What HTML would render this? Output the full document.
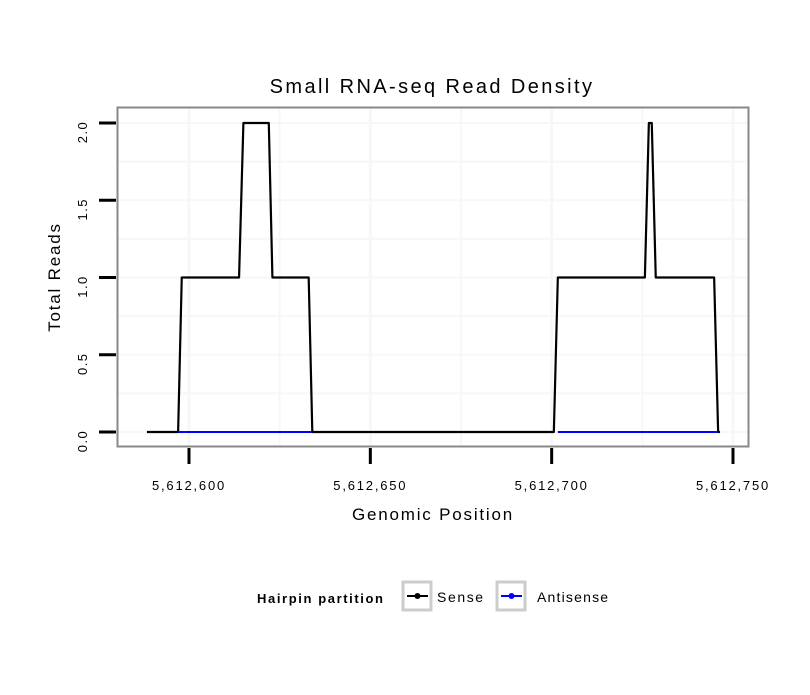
<!DOCTYPE html>
<html><head><meta charset="utf-8"><style>
body{margin:0;background:#fff}
svg text{font-family:"Liberation Sans",sans-serif}
</style></head><body>
<svg id="chart" width="810" height="690" xmlns="http://www.w3.org/2000/svg">
<rect width="810" height="690" fill="#fff"/>
<text x="432" y="93" font-size="20" letter-spacing="2.4" text-anchor="middle">Small RNA-seq Read Density</text>
<g id="grid"></g>
<g id="series"></g>
<rect x="117.5" y="107.5" width="631" height="339" fill="none" stroke="#888" stroke-width="2"/>
<g id="axes"></g>
<text x="433" y="520" font-size="17" letter-spacing="1.8" text-anchor="middle">Genomic Position</text>
<text transform="translate(60,277) rotate(-90)" font-size="17" letter-spacing="1.8" text-anchor="middle">Total Reads</text>
<g>
<text x="257" y="603" font-size="13" font-weight="bold" letter-spacing="1.6">Hairpin partition</text>
<g>
<rect x="403" y="582" width="28" height="28" fill="none" stroke="#ccc" stroke-width="3"/>
<line x1="407" y1="596" x2="428" y2="596" stroke="#000" stroke-width="2"/><circle cx="417.5" cy="596" r="3" fill="#000"/>
<text x="437" y="602" font-size="14" letter-spacing="1.6">Sense</text></g>
<g>
<rect x="497" y="582" width="28" height="28" fill="none" stroke="#ccc" stroke-width="3"/>
<line x1="501" y1="596" x2="522" y2="596" stroke="#00f" stroke-width="2"/><circle cx="511.5" cy="596" r="3" fill="#00f"/>
<text x="537" y="602" font-size="14" letter-spacing="1.2">Antisense</text></g>
</g>
</svg>
<script>
const senseX=[5612588.4,5612597,5612598,5612613.8,5612615,5612622,5612623,5612633,5612634,5612700.6,5612701.7,5612725.7,5612726.8,5612727.6,5612728.7,5612744.8,5612745.9,5612746.4];
const senseY=[0,0,1,1,2,2,1,1,0,0,1,1,2,2,1,1,0,0];
const antiSegStart=[5612597,5612701.7];
const antiSegEnd=[5612634,5612745.9];
const xTicks=[5612600,5612650,5612700,5612750];
const xTickLabels=["5,612,600","5,612,650","5,612,700","5,612,750"];
const yTicks=[0,0.5,1,1.5,2];
const yTickLabels=["0.0","0.5","1.0","1.5","2.0"];
const NS="http://www.w3.org/2000/svg";
const sx=v=>189+(v-5612600)*544/150;
const sy=v=>432-v*154.5;
function mk(t,a,p){const e=document.createElementNS(NS,t);for(const k in a)e.setAttribute(k,a[k]);p.appendChild(e);return e;}
const grid=document.getElementById('grid'),axes=document.getElementById('axes'),ser=document.getElementById('series');
for(let v=5612575;v<=5612750;v+=25){const x=sx(v);if(x<118||x>748)continue;
const g=mk('line',{x1:x,x2:x,y1:108,y2:446,stroke:'#f7f7f7','stroke-width':v%50===0?3:2},grid);
}
for(let v=-0.25;v<=2.25;v+=0.25){const y=sy(v);if(y<108||y>446)continue;
const g=mk('line',{x1:118,x2:748,y1:y,y2:y,stroke:'#f7f7f7','stroke-width':2},grid);
}
xTicks.forEach((v,i)=>{const x=sx(v);
const t=mk('line',{x1:x,x2:x,y1:448,y2:464,stroke:'#000','stroke-width':3},axes);

const l=mk('text',{x:x,y:490,'font-size':13,'letter-spacing':1.8,'text-anchor':'middle'},axes);l.textContent=xTickLabels[i];
});
yTicks.forEach((v,i)=>{const y=sy(v)+9;
const t=mk('line',{x1:99,x2:116,y1:sy(v),y2:sy(v),stroke:'#000','stroke-width':3},axes);

const l=mk('text',{transform:`translate(87,${y}) rotate(-90)`,'font-size':13,'letter-spacing':1.5,'text-anchor':'middle'},axes);l.textContent=yTickLabels[i];
});
const pts=senseX.map((v,i)=>sx(v)+','+sy(senseY[i])).join(' ');
const pl=mk('polyline',{points:pts,fill:'none',stroke:'#000','stroke-width':2.2,'stroke-linejoin':'round'},ser);

antiSegStart.forEach((v,i)=>{const a=mk('line',{x1:sx(v),x2:sx(antiSegEnd[i]),y1:sy(0),y2:sy(0),stroke:'#00f','stroke-width':2},ser);
});
</script>
</body></html>
